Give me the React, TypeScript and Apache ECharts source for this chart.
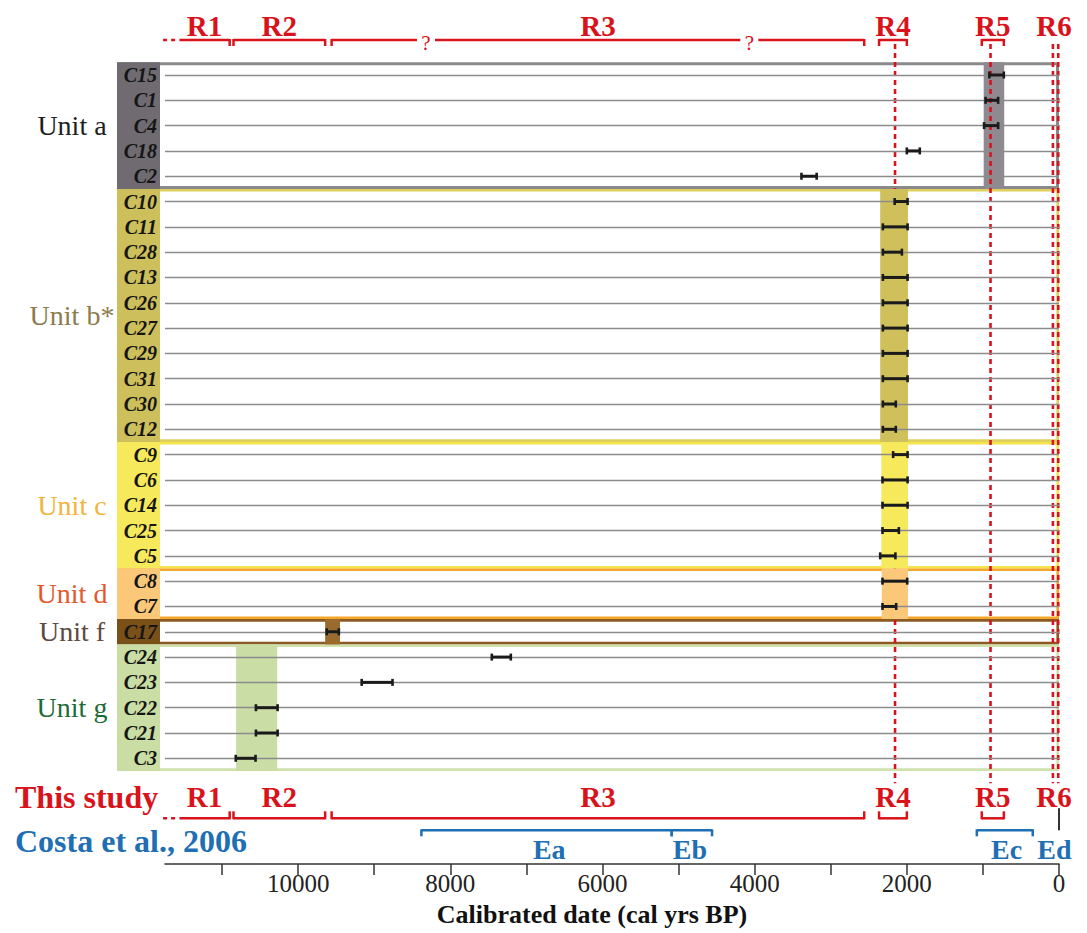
import React, { useEffect, useRef } from 'react';
import * as echarts from 'echarts';

// ---- samples (rows, top to bottom) and their calibrated age ranges (cal yrs BP)
const samples = ['C15','C1','C4','C18','C2','C10','C11','C28','C13','C26','C27','C29','C31','C30','C12','C9','C6','C14','C25','C5','C8','C7','C17','C24','C23','C22','C21','C3'];
const ageYoung = [725,800,800,1830,3185,1990,1990,2065,1990,1990,1990,1990,1990,2145,2145,1990,1990,1990,2105,2150,1995,2140,9465,7205,8760,10270,10270,10560];
const ageOld = [915,965,985,2000,3385,2160,2315,2315,2315,2315,2315,2315,2315,2315,2315,2180,2320,2320,2320,2350,2320,2320,9625,7455,9165,10555,10555,10820];

// ---- stratigraphic units
const unitNames = ['Unit a','Unit b*','Unit c','Unit d','Unit f','Unit g'];
const unitFirstRow = [0,5,15,20,22,23];
const unitLastRow = [4,14,19,21,22,27];
const unitAgeYoung = [720,1985,1985,1985,9450,10275];
const unitAgeOld = [990,2350,2335,2330,9645,10815];
const unitColumnColors = ['#6f6b71','#cdbf5b','#f7e95c','#fbc87a','#7a5019','#c9dda4'];
const unitBandColors = ['#8e8a8f','#cfc05c','#f7e95c','#fbc87a','#9a6a2f','#c9dda4'];
const unitFrameColors = ['#8a8a8a','#ddd05c','#f6e34c','#f4a72a','#8a5a22','#cfe2ae'];
const unitLabelColors = ['#1e1e1e','#8c7b4c','#f3b33d','#e4572b','#5d4a40','#1e6b36'];
const bandOverBoundaries = [false,true,true,true,false,false];

// ---- this study: periods R1..R5 (+ R6)
const phaseNames = ['R1','R2','R3','R4','R5'];
const phaseOld = [11560,10850,9560,2365,1015];
const phaseYoung = [10900,9645,2560,2000,725];
const phaseOpenOld = [true,false,false,false,false];
const phaseLead = [11775, 11610];
const phaseUncertainAges = [8320, 4070];
const latestPhaseName = 'R6';
const latestPhaseAge = 65;
const boundaryAges = [2155, 900, 80, 10];

// ---- Costa et al., 2006 events
const costaNames = ['Ea','Eb','Ec','Ed'];
const costaOld = [8380,5090,1080,0];
const costaYoung = [5090,4560,345,0];
const costaLabelAge = [6700,4850,690,60];

// ---- x axis
const xMax = 11750;
const xTicks = [0,1000,2000,3000,4000,5000,6000,7000,8000,9000,10000,11000];
const xLabels = [0,2000,4000,6000,8000,10000];

const SERIF = "'Liberation Serif', 'Times New Roman', 'DejaVu Serif', serif";
const RED = '#d8131b';
const BLUE = '#1f6fb4';

const seg = (x1: number, y1: number, x2: number, y2: number, stroke: string, lineWidth: number, lineDash?: number[]) => ({
  type: 'line',
  shape: { x1, y1, x2, y2 },
  style: { stroke, lineWidth, lineDash: lineDash || null },
});

const txt = (x: number, y: number, text: string, fill: string, fontSize: number, fontWeight = 'bold', align = 'center') => ({
  type: 'text',
  x,
  y,
  style: { text, fill, fontSize, fontWeight, fontFamily: SERIF, align, verticalAlign: 'middle' },
});

export default function App() {
  const ref = useRef<HTMLDivElement>(null);

  useEffect(() => {
    document.body.style.margin = '0';
    const chart = echarts.init(ref.current!, null, { renderer: 'svg' });

    const rowStep = (api: any) => api.coord([0, 1])[1] - api.coord([0, 0])[1];

    const bandRender = (params: any, api: any) => {
      const u = api.value(4);
      const step = rowStep(api);
      const x1 = api.coord([api.value(1), 0])[0];
      const x2 = api.coord([api.value(0), 0])[0];
      const top = api.coord([0, api.value(2)])[1] - step / 2;
      const bot = api.coord([0, api.value(3)])[1] + step / 2;
      return {
        type: 'rect',
        shape: { x: x1, y: top, width: x2 - x1, height: bot - top },
        style: { fill: unitBandColors[u] },
      };
    };

    const bandData = (over: boolean) =>
      unitNames
        .map((_, i) => [unitAgeYoung[i], unitAgeOld[i], unitFirstRow[i], unitLastRow[i], i])
        .filter((d) => bandOverBoundaries[d[4]] === over);

    const option: any = {
      animation: false,
      textStyle: { fontFamily: SERIF },
      grid: { left: 165, right: 28, top: 75, bottom: 174.7, containLabel: false },
      xAxis: {
        type: 'value',
        min: 0,
        max: xMax,
        interval: 1000,
        inverse: true,
        position: 'bottom',
        offset: 105.7,
        axisLine: { show: true, lineStyle: { color: '#333', width: 1.5 } },
        axisTick: { show: true, length: 11, inside: false, customValues: xTicks, lineStyle: { color: '#333', width: 1.5 } },
        axisLabel: {
          customValues: xLabels,
          formatter: (v: number) => (v % 2000 === 0 ? String(v) : ''),
          fontFamily: SERIF,
          fontSize: 25,
          color: '#222',
          margin: 7,
        },
        splitLine: { show: false },
        name: 'Calibrated date (cal yrs BP)',
        nameLocation: 'middle',
        nameGap: 37,
        nameTextStyle: { fontFamily: SERIF, fontWeight: 'bold', fontSize: 26, color: '#111', padding: [0, 40, 0, 0] },
      },
      yAxis: {
        type: 'category',
        data: samples,
        inverse: true,
        boundaryGap: false,
        z: 10,
        axisLine: { show: false },
        axisTick: { show: false },
        axisLabel: {
          interval: 0,
          fontFamily: SERIF,
          fontWeight: 'bold',
          fontStyle: 'italic',
          fontSize: 20,
          color: '#151515',
          margin: 8,
        },
        splitLine: { show: true, interval: 0, lineStyle: { color: '#8c8c8c', width: 1.3 } },
      },
      graphic: [
        txt(15, 797, 'This study', RED, 32, 'bold', 'left'),
        txt(15, 841, 'Costa et al., 2006', BLUE, 32, 'bold', 'left'),
      ],
      series: [
        {
          // unit label columns + frames
          type: 'custom',
          name: 'units',
          z: 2,
          silent: true,
          clip: false,
          data: unitNames.map((_, i) => [unitAgeYoung[i], unitFirstRow[i], unitLastRow[i], i]),
          encode: { x: 0, y: 1 },
          renderItem: (params: any, api: any) => {
            const u = api.value(3);
            const cs = params.coordSys;
            const step = rowStep(api);
            const top = api.coord([0, api.value(1)])[1] - step / 2;
            const bot = api.coord([0, api.value(2)])[1] + step / 2;
            const colLeft = cs.x - 48;
            const colRight = cs.x - 5;
            const right = cs.x + cs.width;
            const lw = u === 0 ? 3 : 2.6;
            return {
              type: 'group',
              children: [
                {
                  type: 'rect',
                  shape: { x: colLeft + lw / 2, y: top + lw / 2, width: right - colLeft - lw, height: bot - top - lw },
                  style: { fill: 'none', stroke: unitFrameColors[u], lineWidth: lw },
                },
                { type: 'rect', shape: { x: colLeft, y: top, width: colRight - colLeft, height: bot - top }, style: { fill: unitColumnColors[u] } },
                txt(cs.x - 93, (top + bot) / 2, unitNames[u], unitLabelColors[u], 28, 'normal'),
              ],
            };
          },
        },
        {
          type: 'custom',
          name: 'unit ages (under)',
          z: 3,
          silent: true,
          clip: false,
          data: bandData(false),
          encode: { x: 0, y: 2 },
          renderItem: bandRender,
        },
        {
          // red dashed boundaries
          type: 'custom',
          name: 'boundaries',
          z: 4,
          silent: true,
          clip: false,
          data: boundaryAges.map((a) => [a, 0]),
          encode: { x: 0, y: 1 },
          renderItem: (params: any, api: any) => {
            const cs = params.coordSys;
            const x = api.coord([api.value(0), 0])[0];
            return seg(x, cs.y - 31, x, cs.y + cs.height + 25, RED, 2.6, [5, 4]);
          },
        },
        {
          type: 'custom',
          name: 'unit ages (over)',
          z: 5,
          silent: true,
          clip: false,
          data: bandData(true),
          encode: { x: 0, y: 2 },
          renderItem: bandRender,
        },
        {
          // calibrated age ranges of samples
          type: 'custom',
          name: 'dates',
          z: 12,
          silent: true,
          clip: false,
          data: samples.map((_, i) => [ageYoung[i], ageOld[i], i]),
          encode: { x: [0, 1], y: 2 },
          renderItem: (params: any, api: any) => {
            const r = api.value(2);
            const p1 = api.coord([api.value(1), r]);
            const p2 = api.coord([api.value(0), r]);
            const c = '#1a1a1a';
            return {
              type: 'group',
              children: [
                seg(p1[0], p1[1], p2[0], p2[1], c, 3),
                seg(p1[0], p1[1] - 3.5, p1[0], p1[1] + 3.5, c, 2.6),
                seg(p2[0], p2[1] - 3.5, p2[0], p2[1] + 3.5, c, 2.6),
              ],
            };
          },
        },
        {
          // this study periods: top and bottom brackets
          type: 'custom',
          name: 'this study',
          z: 6,
          silent: true,
          clip: false,
          data: phaseNames.map((_, i) => [phaseOld[i], phaseYoung[i]]),
          encode: { x: [0, 1] },
          renderItem: (params: any, api: any) => {
            const i = params.dataIndex;
            const cs = params.coordSys;
            const old = api.value(0);
            const young = api.value(1);
            const xo = api.coord([old, 0])[0];
            const xy = api.coord([young, 0])[0];
            const gb = cs.y + cs.height;
            const topY = cs.y - 35;
            const botY = gb + 60;
            const lw = 2.5;
            const children: any[] = [];
            const gaps = phaseUncertainAges
              .filter((a) => a < old && a > young)
              .map((a) => api.coord([a, 0])[0])
              .sort((a, b) => a - b);
            let s = xo;
            for (const g of gaps) {
              children.push(seg(s, topY, g - 9, topY, RED, lw));
              s = g + 9;
            }
            children.push(seg(s, topY, xy, topY, RED, lw));
            children.push(seg(xo, botY, xy, botY, RED, lw));
            if (!phaseOpenOld[i]) {
              children.push(seg(xo, topY - 1, xo, topY + 6, RED, lw));
              children.push(seg(xo, botY + 1, xo, botY - 7, RED, lw));
            }
            children.push(seg(xy, topY - 1, xy, topY + 6, RED, lw));
            children.push(seg(xy, botY + 1, xy, botY - 7, RED, lw));
            const xm = (xo + xy) / 2;
            children.push(txt(xm, cs.y - 49, phaseNames[i], RED, 29));
            children.push(txt(xm, gb + 39, phaseNames[i], RED, 29));
            return { type: 'group', children };
          },
        },
        {
          // dotted lead-in before R1 and latest period R6 label
          type: 'custom',
          name: 'this study extras',
          z: 6,
          silent: true,
          clip: false,
          data: [[phaseLead[0], phaseLead[1], latestPhaseAge]],
          encode: { x: [0, 1] },
          renderItem: (params: any, api: any) => {
            const cs = params.coordSys;
            const gb = cs.y + cs.height;
            const x1 = api.coord([api.value(0), 0])[0];
            const x2 = api.coord([api.value(1), 0])[0];
            const x6 = api.coord([api.value(2), 0])[0];
            return {
              type: 'group',
              children: [
                seg(x1, cs.y - 35, x2, cs.y - 35, RED, 2.5, [4, 4]),
                seg(x1, gb + 60, x2, gb + 60, RED, 2.5, [4, 4]),
                txt(x6, cs.y - 49, latestPhaseName, RED, 29),
                txt(x6, gb + 39, latestPhaseName, RED, 29),
              ],
            };
          },
        },
        {
          type: 'custom',
          name: 'uncertain',
          z: 6,
          silent: true,
          clip: false,
          data: phaseUncertainAges.map((a) => [a, 0]),
          encode: { x: 0 },
          renderItem: (params: any, api: any) => {
            const cs = params.coordSys;
            const x = api.coord([api.value(0), 0])[0];
            return txt(x, cs.y - 32, '?', RED, 21, 'normal');
          },
        },
        {
          // Costa et al., 2006 events
          type: 'custom',
          name: 'costa',
          z: 6,
          silent: true,
          clip: false,
          data: costaNames.map((_, i) => [costaOld[i], costaYoung[i], costaLabelAge[i]]),
          encode: { x: [0, 1] },
          renderItem: (params: any, api: any) => {
            const i = params.dataIndex;
            const cs = params.coordSys;
            const gb = cs.y + cs.height;
            const xo = api.coord([api.value(0), 0])[0];
            const xy = api.coord([api.value(1), 0])[0];
            const xl = api.coord([api.value(2), 0])[0];
            const y = gb + 72;
            const children: any[] = [];
            if (api.value(0) === api.value(1)) {
              children.push(seg(xo, gb + 50, xo, y, '#333', 2));
            } else {
              children.push(seg(xo, y, xy, y, BLUE, 2.5));
              children.push(seg(xo, y - 1, xo, y + 6, BLUE, 2.5));
              children.push(seg(xy, y - 1, xy, y + 6, BLUE, 2.5));
            }
            children.push(txt(xl, gb + 91, costaNames[i], BLUE, 28));
            return { type: 'group', children };
          },
        },
      ],
    };

    chart.setOption(option);
    return () => chart.dispose();
  }, []);

  return <div ref={ref} style={{ width: 1087, height: 933 }} />;
}
